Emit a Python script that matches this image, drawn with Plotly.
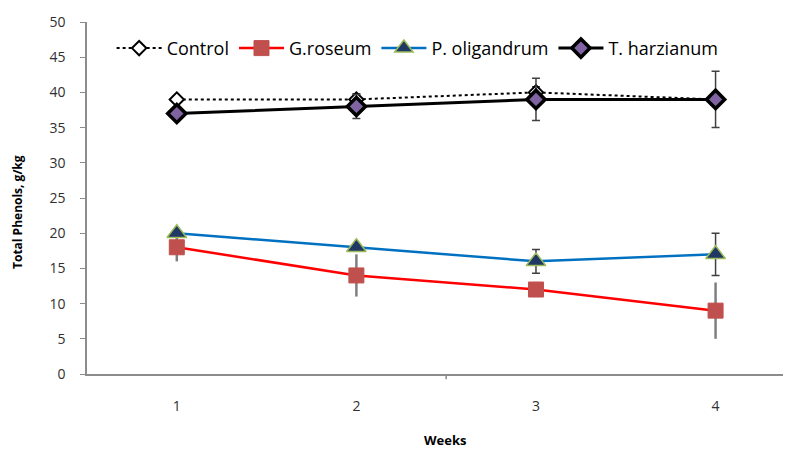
import plotly.graph_objects as go

weeks = [1, 2, 3, 4]
week_labels = ["1", "2", "3", "4"]
control = [39, 39, 40, 39]
control_err = [0.5, 0.8, 0.8, 0.5]
g_roseum = [18, 14, 12, 9]
g_roseum_err = [2, 3, 0.5, 4]
p_oligandrum = [20, 18, 16, 17]
p_oligandrum_err = [0.5, 0.5, 1.7, 3]
t_harzianum = [37, 38, 39, 39]
t_harzianum_err = [0.5, 1.7, 3, 4]
y_ticks = [0, 5, 10, 15, 20, 25, 30, 35, 40, 45, 50]

font_fam = "Open Sans, Liberation Sans, Arial, sans-serif"

fig = go.Figure()

fig.add_trace(go.Scatter(
    x=weeks, y=control, name="Control", mode="lines+markers",
    line=dict(color="black", width=2, dash="dot"),
    marker=dict(symbol="diamond", size=11, color="white", line=dict(color="black", width=2)),
    error_y=dict(type="data", array=control_err, color="#404040", thickness=1.5, width=4),
))
fig.add_trace(go.Scatter(
    x=weeks, y=g_roseum, name="G.roseum", mode="lines+markers",
    line=dict(color="#FF0000", width=2.5),
    marker=dict(symbol="square", size=15, color="#C0504D", line=dict(color="#C0504D", width=1)),
    error_y=dict(type="data", array=g_roseum_err, color="#7F7F7F", thickness=2.5, width=0),
))
fig.add_trace(go.Scatter(
    x=weeks, y=p_oligandrum, name="P. oligandrum", mode="lines+markers",
    line=dict(color="#0070C0", width=2.5),
    marker=dict(symbol="triangle-up", size=17, color="#1F3864", line=dict(color="#9BBB59", width=1.5)),
    error_y=dict(type="data", array=p_oligandrum_err, color="#404040", thickness=1.5, width=4),
))
fig.add_trace(go.Scatter(
    x=weeks, y=t_harzianum, name="T. harzianum", mode="lines+markers",
    line=dict(color="black", width=3),
    marker=dict(symbol="diamond", size=14, color="#8064A2", line=dict(color="black", width=3.5)),
    error_y=dict(type="data", array=t_harzianum_err, color="#404040", thickness=1.5, width=4),
))

fig.update_layout(
    width=783, height=443,
    margin=dict(l=79, r=0, t=14, b=77),
    paper_bgcolor="white", plot_bgcolor="white",
    font=dict(family=font_fam, size=14, color="#303030"),
    showlegend=True,
    legend=dict(orientation="h", x=0.035, y=0.925, xanchor="left", yanchor="middle",
                font=dict(size=18, family=font_fam, color="black"), bgcolor="rgba(0,0,0,0)",
                itemwidth=45, traceorder="normal"),
    xaxis=dict(
        range=[0.5, 4.42], tickmode="array", tickvals=weeks, ticktext=week_labels,
        showline=True, linecolor="#8C8C8C", linewidth=1.5, showgrid=False, zeroline=False,
        ticks="", ticklabelstandoff=18, automargin=False,
    ),
    yaxis=dict(
        range=[0, 50], tickmode="array", tickvals=y_ticks,
        showline=True, linecolor="#8C8C8C", linewidth=1.5, showgrid=False, zeroline=False,
        ticks="outside", ticklen=5, tickcolor="#8C8C8C", ticklabelstandoff=12, automargin=False,
    ),
    annotations=[
        dict(text="<b>Weeks</b>", xref="paper", yref="paper", x=(445 - 87) / 704, y=-(440 - 374) / 352,
             xanchor="center", yanchor="middle", showarrow=False, font=dict(size=13, color="black")),
        dict(text="<b>Total Phenols, g/kg</b>", xref="paper", yref="paper", x=(17 - 87) / 704,
             y=(374 - 212) / 352, xanchor="center", yanchor="middle", textangle=-90,
             showarrow=False, font=dict(size=12, color="black")),
    ],
)

fig.add_shape(type="line", xref="x", yref="paper", x0=2.5, x1=2.5, y0=0, y1=-0.015,
              line=dict(color="#8C8C8C", width=1.5))

fig.write_html("out.html")
